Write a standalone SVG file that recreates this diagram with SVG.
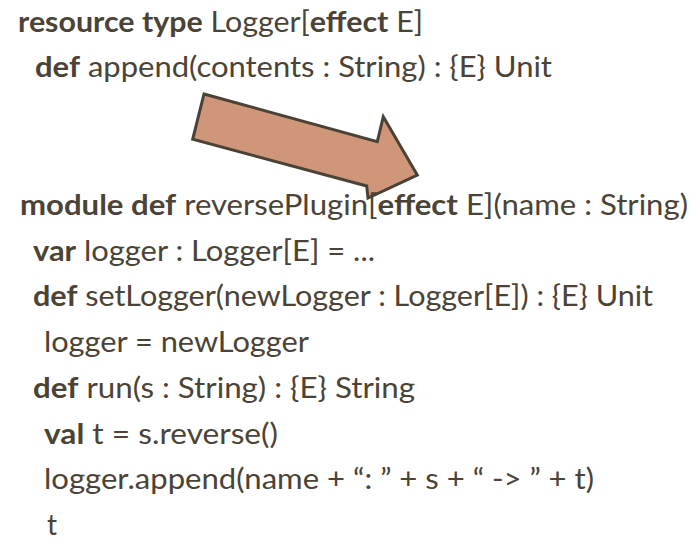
<svg xmlns="http://www.w3.org/2000/svg" width="692" height="541" viewBox="0 0 692 541">
<style>
text{font-family:Lato,"Liberation Sans",sans-serif;font-size:28px;fill:#4a4336}
.b{font-weight:bold}
.arrow{fill:#d0967a;stroke:#4a4236;stroke-width:3;stroke-linejoin:miter}
</style>
<rect width="692" height="541" fill="#ffffff"/>
<g id="code-logger">
<text x="18" y="31.5" textLength="405" lengthAdjust="spacingAndGlyphs"><tspan class="b">resource type</tspan> Logger[<tspan class="b">effect</tspan> E]</text>
<text x="35" y="77" textLength="517" lengthAdjust="spacingAndGlyphs"><tspan class="b">def</tspan> append(contents : String) : {E} Unit</text>
</g>
<g id="connectors">
<polygon class="arrow" points="204,94 377.3,141.7 383.3,116.7 417.3,175 368,198 366.7,186 192.7,139.3"/>
</g>
<g id="code-plugin">
<text x="20" y="215" textLength="668" lengthAdjust="spacingAndGlyphs"><tspan class="b">module def</tspan> reversePlugin[<tspan class="b">effect</tspan> E](name : String)</text>
<text x="33" y="260.7" textLength="342" lengthAdjust="spacingAndGlyphs"><tspan class="b">var</tspan> logger : Logger[E] = ...</text>
<text x="33" y="306.4" textLength="620" lengthAdjust="spacingAndGlyphs"><tspan class="b">def</tspan> setLogger(newLogger : Logger[E]) : {E} Unit</text>
<text x="44" y="352.1" textLength="265" lengthAdjust="spacingAndGlyphs">logger = newLogger</text>
<text x="33" y="397.8" textLength="382" lengthAdjust="spacingAndGlyphs"><tspan class="b">def</tspan> run(s : String) : {E} String</text>
<text x="44" y="443.5" textLength="234" lengthAdjust="spacingAndGlyphs"><tspan class="b">val</tspan> t = s.reverse()</text>
<text x="44" y="489.2" textLength="550" lengthAdjust="spacingAndGlyphs">logger.append(name + “: ” + s + “ -&gt; ” + t)</text>
<text x="47" y="534.9">t</text>
</g>
</svg>
